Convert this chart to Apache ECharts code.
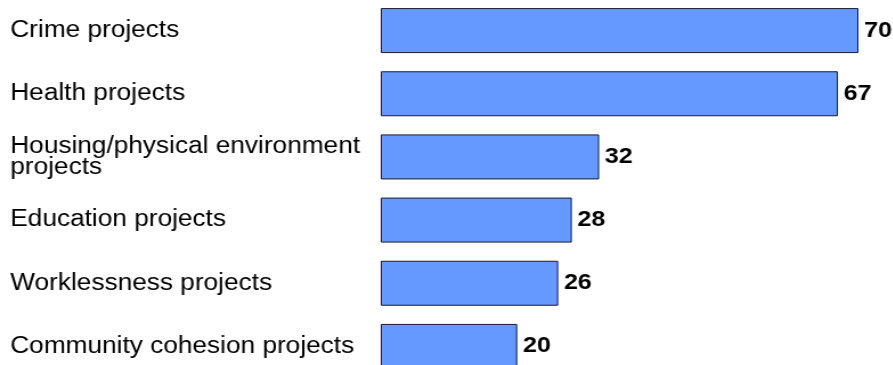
<!DOCTYPE html>
<html>
<head>
<meta charset="utf-8">
<script src="https://cdn.jsdelivr.net/npm/echarts@6/dist/echarts.min.js"></script>
<style>
  html, body { margin: 0; padding: 0; background: #ffffff; overflow: hidden; }
  /* the chart is drawn slightly narrower and widened to the page, which gives the wide lettering */
  #chart { width: 783px; height: 365px; transform: scaleX(1.14); transform-origin: 0 0; }
</style>
</head>
<body>
<div id="chart"></div>
<script>
// Project themes, listed top to bottom
const categories = [
  'Crime projects',
  'Health projects',
  'Housing/physical environment\nprojects',
  'Education projects',
  'Worklessness projects',
  'Community cohesion projects'
];
// Number of projects per theme
const values = [70, 67, 32, 28, 26, 20];

const chart = echarts.init(document.getElementById('chart'), null, { renderer: 'canvas' });

chart.setOption({
  animation: false,
  backgroundColor: '#ffffff',
  grid: {
    left: 334, right: 30, top: -1, height: 379,
    containLabel: false,
    outerBoundsMode: 'none'
  },
  xAxis: {
    type: 'value',
    min: 0,
    max: 70,
    show: false
  },
  yAxis: {
    type: 'category',
    inverse: true,
    data: categories,
    axisLine: { show: false },
    axisTick: { show: false },
    splitLine: { show: false },
    axisLabel: {
      align: 'left',
      margin: 325,
      color: '#000000',
      fontFamily: 'Liberation Sans, Arial, sans-serif',
      fontSize: 23,
      lineHeight: 21
    }
  },
  series: [{
    type: 'bar',
    data: values,
    barWidth: 45,
    itemStyle: {
      color: '#6699ff',
      borderColor: '#1a1a2a',
      borderWidth: 1
    },
    label: {
      show: true,
      position: 'right',
      distance: 5,
      color: '#000000',
      fontFamily: 'Liberation Sans, Arial, sans-serif',
      fontWeight: 'bold',
      fontSize: 22
    }
  }]
});
</script>
</body>
</html>
